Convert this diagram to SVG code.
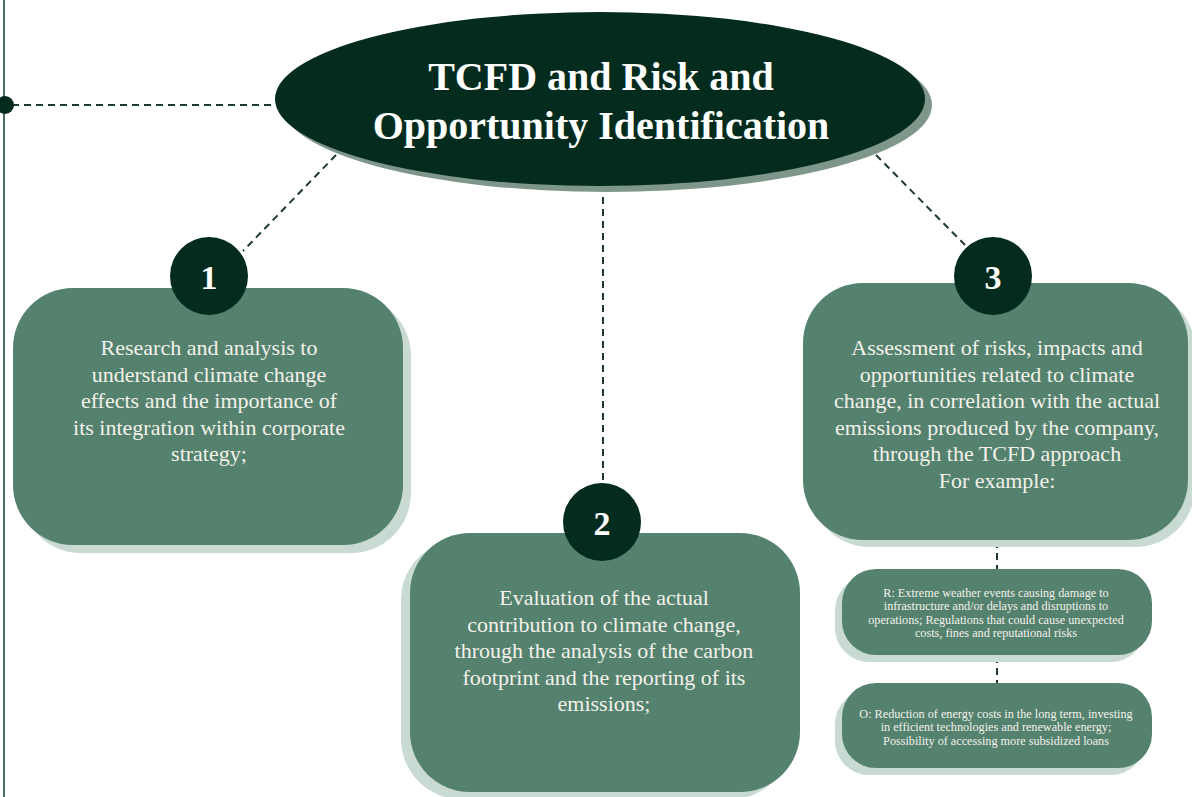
<svg xmlns="http://www.w3.org/2000/svg" width="1192" height="797" viewBox="0 0 1192 797">
<style>
.box{fill:#54826f}
.shadow{fill:#c9dad2}
.badge{fill:#032b1e}
.dash{stroke:#1e3a2f;stroke-width:2;stroke-dasharray:7 5;fill:none}
.t{font-family:"Liberation Serif","Times New Roman",serif;fill:#f3f1ea;text-anchor:middle}
.body{font-size:22px}
.small{font-size:12.2px}
.num{font-size:34px;font-weight:bold;fill:#ffffff}
.title{font-size:40px;font-weight:bold;fill:#ffffff}
</style>
<rect width="1192" height="797" fill="#ffffff"/>
<g id="connectors">
<line x1="4" y1="0" x2="4" y2="797" stroke="#4b6e5f" stroke-width="2"/>
<line class="dash" x1="12" y1="105" x2="274" y2="105"/>
<line class="dash" x1="336" y1="155" x2="243" y2="251"/>
<line class="dash" x1="603" y1="197" x2="603" y2="485"/>
<line class="dash" x1="876" y1="155" x2="965" y2="245"/>
<line class="dash" x1="997" y1="541" x2="997" y2="570"/>
<line class="dash" x1="997" y1="656" x2="997" y2="684"/>
<circle cx="5" cy="105" r="9" fill="#032b1e"/>
</g>
<g id="title">
<ellipse cx="607" cy="105" rx="325" ry="87" fill="#7f978b"/>
<ellipse cx="600" cy="99" rx="325" ry="87" fill="#032b1e"/>
<text class="t title" x="601" y="90">TCFD and Risk and</text>
<text class="t title" x="601" y="139">Opportunity Identification</text>
</g>
<g id="node1">
<rect class="shadow" x="21" y="296" width="390" height="257" rx="60"/>
<rect class="box" x="13" y="288" width="390" height="257" rx="60"/>
<circle class="badge" cx="209" cy="276" r="39"/>
<text class="t num" x="209" y="289">1</text>
<text class="t body"><tspan x="209" y="355">Research and analysis to</tspan><tspan x="209" y="381.5">understand climate change</tspan><tspan x="209" y="408">effects and the importance of</tspan><tspan x="209" y="434.5">its integration within corporate</tspan><tspan x="209" y="461">strategy;</tspan></text>
</g>
<g id="node2">
<rect class="shadow" x="401" y="540" width="390" height="259" rx="60"/>
<rect class="box" x="410" y="533" width="390" height="259" rx="60"/>
<circle class="badge" cx="602" cy="522" r="39"/>
<text class="t num" x="602" y="535">2</text>
<text class="t body"><tspan x="604" y="605">Evaluation of the actual</tspan><tspan x="604" y="631.5">contribution to climate change,</tspan><tspan x="604" y="658">through the analysis of the carbon</tspan><tspan x="604" y="684.5">footprint and the reporting of its</tspan><tspan x="604" y="711">emissions;</tspan></text>
</g>
<g id="node3">
<rect class="shadow" x="810" y="290" width="385" height="257" rx="60"/>
<rect class="box" x="803" y="283" width="385" height="257" rx="60"/>
<circle class="badge" cx="993" cy="276" r="39"/>
<text class="t num" x="993" y="289">3</text>
<text class="t body"><tspan x="997" y="355">Assessment of risks, impacts and</tspan><tspan x="997" y="381.5">opportunities related to climate</tspan><tspan x="997" y="408">change, in correlation with the actual</tspan><tspan x="997" y="434.5">emissions produced by the company,</tspan><tspan x="997" y="461">through the TCFD approach</tspan><tspan x="997" y="487.5">For example:</tspan></text>
</g>
<g id="nodeR">
<rect class="shadow" x="835" y="576" width="310" height="86" rx="34"/>
<rect class="box" x="842" y="569" width="310" height="86" rx="34"/>
<text class="t small"><tspan x="996" y="597">R: Extreme weather events causing damage to</tspan><tspan x="996" y="610.3">infrastructure and/or delays and disruptions to</tspan><tspan x="996" y="623.6">operations; Regulations that could cause unexpected</tspan><tspan x="996" y="637">costs, fines and reputational risks</tspan></text>
</g>
<g id="nodeO">
<rect class="shadow" x="835" y="690" width="310" height="85" rx="34"/>
<rect class="box" x="842" y="683" width="310" height="85" rx="34"/>
<text class="t small"><tspan x="996" y="718">O: Reduction of energy costs in the long term, investing</tspan><tspan x="996" y="731.3">in efficient technologies and renewable energy;</tspan><tspan x="996" y="744.6">Possibility of accessing more subsidized loans</tspan></text>
</g>
</svg>
